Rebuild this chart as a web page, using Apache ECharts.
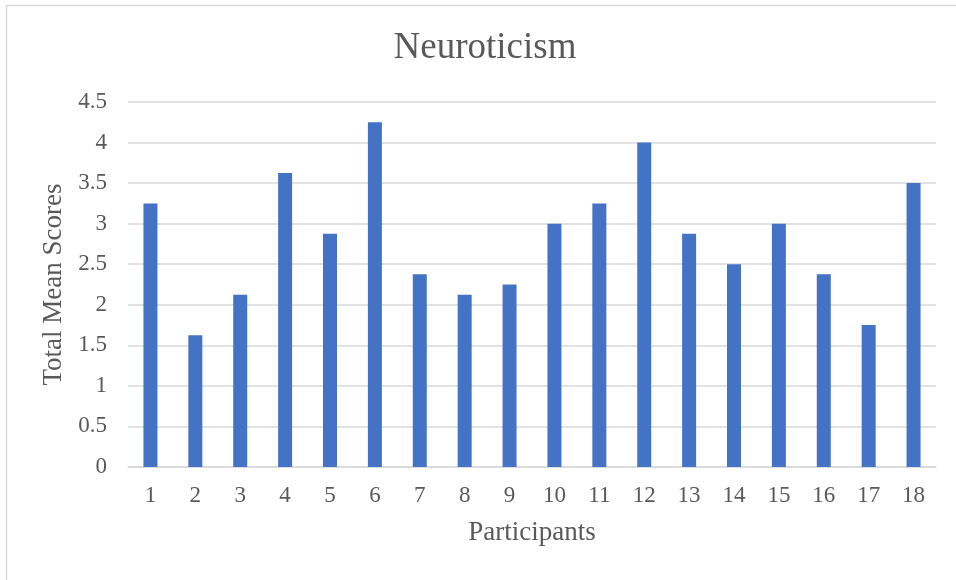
<!DOCTYPE html>
<html>
<head>
<meta charset="utf-8">
<style>
  html, body { margin: 0; padding: 0; background: #ffffff; }
  #chart { width: 956px; height: 580px; }
</style>
<script src="https://cdn.jsdelivr.net/npm/echarts@6/dist/echarts.min.js"></script>
</head>
<body>
<div id="chart"></div>
<script>
// Participant numbers along the x axis
const participants = ['1','2','3','4','5','6','7','8','9','10','11','12','13','14','15','16','17','18'];
// Total mean neuroticism score per participant
const meanScores = [3.25, 1.625, 2.125, 3.625, 2.875, 4.25, 2.375, 2.125, 2.25, 3, 3.25, 4, 2.875, 2.5, 3, 2.375, 1.75, 3.5];
// Value axis range
const yMin = 0, yMax = 4.5, yStep = 0.5;

const serif = '"Liberation Serif", "Times New Roman", serif';
const textGrey = '#595959';

const chart = echarts.init(document.getElementById('chart'), null, { renderer: 'canvas' });
chart.setOption({
  animation: false,
  backgroundColor: '#ffffff',
  graphic: [{
    type: 'rect',
    shape: { x: 6.5, y: 5.5, width: 980, height: 600 },
    style: { fill: 'none', stroke: '#d9d9d9', lineWidth: 1.5 },
    silent: true
  }],
  title: {
    text: 'Neuroticism',
    left: 480, top: 25, textAlign: 'center',
    textStyle: { fontFamily: serif, fontSize: 37, fontWeight: 'normal', color: textGrey }
  },
  grid: { left: 128, right: 20, top: 102, bottom: 113, containLabel: false },
  xAxis: {
    type: 'category',
    data: participants,
    name: 'Participants',
    nameLocation: 'middle',
    nameGap: 52,
    nameTextStyle: { fontFamily: serif, fontSize: 27, color: textGrey },
    axisLine: { lineStyle: { color: '#d9d9d9', width: 1.5 } },
    axisTick: { show: false },
    axisLabel: { fontFamily: serif, fontSize: 23, color: textGrey, margin: 17 }
  },
  yAxis: {
    type: 'value',
    min: yMin, max: yMax, interval: yStep,
    name: 'Total Mean Scores',
    nameLocation: 'middle',
    nameGap: 60,
    nameTextStyle: { fontFamily: serif, fontSize: 27, color: textGrey },
    axisLine: { show: false },
    axisTick: { show: false },
    axisLabel: { fontFamily: serif, fontSize: 23, color: textGrey, margin: 21 },
    splitLine: { lineStyle: { color: '#d9d9d9', width: 1.5 } }
  },
  series: [{
    type: 'bar',
    data: meanScores,
    barWidth: 14,
    itemStyle: { color: '#4472c4' }
  }]
});
</script>
</body>
</html>
